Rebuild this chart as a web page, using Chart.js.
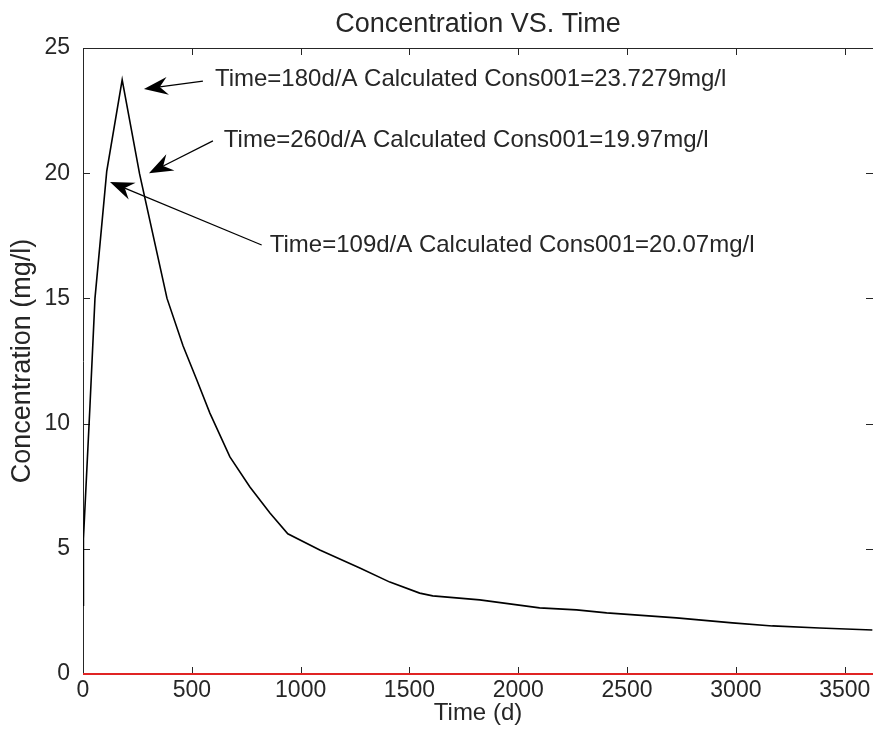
<!DOCTYPE html>
<html lang="en">
<head>
<meta charset="UTF-8">
<title>Concentration VS. Time</title>
<script src="https://cdn.jsdelivr.net/npm/chart.js"></script>
<style>
    html, body {
        margin: 0;
        padding: 0;
        background: #fff;
        overflow: hidden;
    }
    .chart-container {
        position: relative;
        width: 873px;
        height: 747px;
    }
</style>
</head>
<body>

<div class="chart-container">
    <canvas id="concChart"></canvas>
</div>

<script>
    // Values: time (d) and concentration (mg/l)
    const timeDays = [0, 2, 32, 55, 109, 180, 260, 386, 460, 523, 583, 675, 767, 859, 941,
        1088, 1272, 1410, 1547, 1607, 1823, 2098, 2268, 2406, 2727, 2984, 3168, 3384, 3627];
    const concValues = [2.75, 5.4, 10.7, 15.0, 20.07, 23.73, 19.97, 15.0, 13.1, 11.74, 10.42, 8.67, 7.47, 6.43, 5.6,
        4.95, 4.23, 3.67, 3.23, 3.12, 2.96, 2.64, 2.56, 2.44, 2.24, 2.04, 1.92, 1.84, 1.76];

    // red series along zero
    const zeroTimes = [0, 3630];
    const zeroValues = [0, 0];

    // tick labels
    const xTicks = [0, 500, 1000, 1500, 2000, 2500, 3000, 3500];
    const yTicks = [0, 5, 10, 15, 20, 25];

    // annotation texts (arrows and text placed in data units)
    const noteTexts = [
        'Time=180d/A Calculated Cons001=23.7279mg/l',
        'Time=260d/A Calculated Cons001=19.97mg/l',
        'Time=109d/A Calculated Cons001=20.07mg/l'
    ];
    const notes = [
        { textAt: [606, 23.76], tail: [551, 23.68], tip: [280, 23.36] },
        { textAt: [647, 21.33], tail: [597, 21.29], tip: [303, 20.0] },
        { textAt: [858, 17.13], tail: [821, 17.13], tip: [124, 19.65] }
    ];

    const inkColor = '#262626';
    const fontFamily = "'Liberation Sans', Arial, Helvetica, sans-serif";

    // box top line, inward ticks on all four sides
    const frameTicks = {
        id: 'frameTicks',
        beforeDatasetsDraw(chart) {
            const { ctx, chartArea: a, scales: { x, y } } = chart;
            ctx.save();
            ctx.strokeStyle = inkColor;
            ctx.lineWidth = 1;
            ctx.beginPath();
            ctx.moveTo(a.left, a.top + 0.5);
            ctx.lineTo(a.right, a.top + 0.5);
            xTicks.forEach(v => {
                const px = Math.round(x.getPixelForValue(v)) + 0.5;
                ctx.moveTo(px, a.bottom);
                ctx.lineTo(px, a.bottom - 7);
                ctx.moveTo(px, a.top);
                ctx.lineTo(px, a.top + 7);
            });
            yTicks.forEach(v => {
                const py = Math.round(y.getPixelForValue(v)) + 0.5;
                ctx.moveTo(a.left, py);
                ctx.lineTo(a.left + 7, py);
                ctx.moveTo(a.right, py);
                ctx.lineTo(a.right - 7, py);
            });
            ctx.stroke();
            ctx.restore();
        }
    };

    // MATLAB style text arrows
    const arrowNotes = {
        id: 'arrowNotes',
        afterDatasetsDraw(chart) {
            const { ctx, scales: { x, y } } = chart;
            ctx.save();
            ctx.lineWidth = 1.2;
            notes.forEach((n, i) => {
                const tx = x.getPixelForValue(n.tail[0]), ty = y.getPixelForValue(n.tail[1]);
                const hx = x.getPixelForValue(n.tip[0]), hy = y.getPixelForValue(n.tip[1]);
                const len = Math.hypot(hx - tx, hy - ty);
                const ux = (hx - tx) / len, uy = (hy - ty) / len;
                const nx = -uy, ny = ux;
                const L = 24, W = 9, N = 16;
                ctx.strokeStyle = '#000';
                ctx.fillStyle = '#000';
                ctx.beginPath();
                ctx.moveTo(tx, ty);
                ctx.lineTo(hx - ux * N, hy - uy * N);
                ctx.stroke();
                ctx.beginPath();
                ctx.moveTo(hx, hy);
                ctx.lineTo(hx - ux * L + nx * W, hy - uy * L + ny * W);
                ctx.lineTo(hx - ux * N, hy - uy * N);
                ctx.lineTo(hx - ux * L - nx * W, hy - uy * L - ny * W);
                ctx.closePath();
                ctx.fill();

                ctx.fillStyle = inkColor;
                ctx.font = '24px ' + fontFamily;
                ctx.textAlign = 'left';
                ctx.textBaseline = 'middle';
                ctx.fillText(noteTexts[i], x.getPixelForValue(n.textAt[0]), y.getPixelForValue(n.textAt[1]));
            });
            ctx.restore();
        }
    };

    const ctx = document.getElementById('concChart').getContext('2d');

    new Chart(ctx, {
        type: 'line',
        data: {
            datasets: [{
                label: 'Cons001',
                data: timeDays.map((t, i) => ({ x: t, y: concValues[i] })),
                borderColor: '#000',
                borderWidth: 1.6,
                pointRadius: 0,
                tension: 0,
            }, {
                label: 'Zero',
                data: zeroTimes.map((t, i) => ({ x: t, y: zeroValues[i] })),
                borderColor: '#e02424',
                borderWidth: 2,
                pointRadius: 0,
                clip: false,
            }],
        },
        options: {
            responsive: true,
            maintainAspectRatio: false,
            animation: false,
            layout: { padding: 0 },
            plugins: {
                legend: { display: false },
                tooltip: { enabled: false },
                title: {
                    display: true,
                    text: 'Concentration VS. Time',
                    color: inkColor,
                    fullSize: false,
                    font: { family: fontFamily, size: 27, weight: 'normal', lineHeight: 1.2 },
                    padding: { top: 8, bottom: 7.6 },
                },
            },
            scales: {
                x: {
                    type: 'linear',
                    min: 0,
                    max: 3630,
                    afterBuildTicks: scale => { scale.ticks = xTicks.map(v => ({ value: v })); },
                    afterFit: scale => {
                        scale.height = 73;
                        scale.paddingLeft = 0;
                        scale.paddingRight = 0;
                    },
                    grid: { display: false, drawTicks: false },
                    border: { display: true, color: inkColor, width: 1 },
                    ticks: {
                        color: inkColor,
                        padding: 3,
                        maxRotation: 0,
                        font: { family: fontFamily, size: 23 },
                        callback: v => String(v),
                    },
                    title: {
                        display: true,
                        text: 'Time (d)',
                        color: inkColor,
                        font: { family: fontFamily, size: 24 },
                        padding: { top: 0, bottom: 19 },
                    },
                },
                y: {
                    type: 'linear',
                    min: 0,
                    max: 25,
                    afterBuildTicks: scale => { scale.ticks = yTicks.map(v => ({ value: v })); },
                    afterFit: scale => { scale.width = 83; },
                    grid: { display: false, drawTicks: false },
                    border: { display: true, color: inkColor, width: 1 },
                    ticks: {
                        color: inkColor,
                        padding: 13,
                        font: { family: fontFamily, size: 23 },
                        callback: v => String(v),
                    },
                    title: {
                        display: true,
                        text: 'Concentration (mg/l)',
                        color: inkColor,
                        font: { family: fontFamily, size: 27 },
                        padding: { top: 6, bottom: 0 },
                    },
                },
            },
        },
        plugins: [frameTicks, arrowNotes],
    });
</script>

</body>
</html>
